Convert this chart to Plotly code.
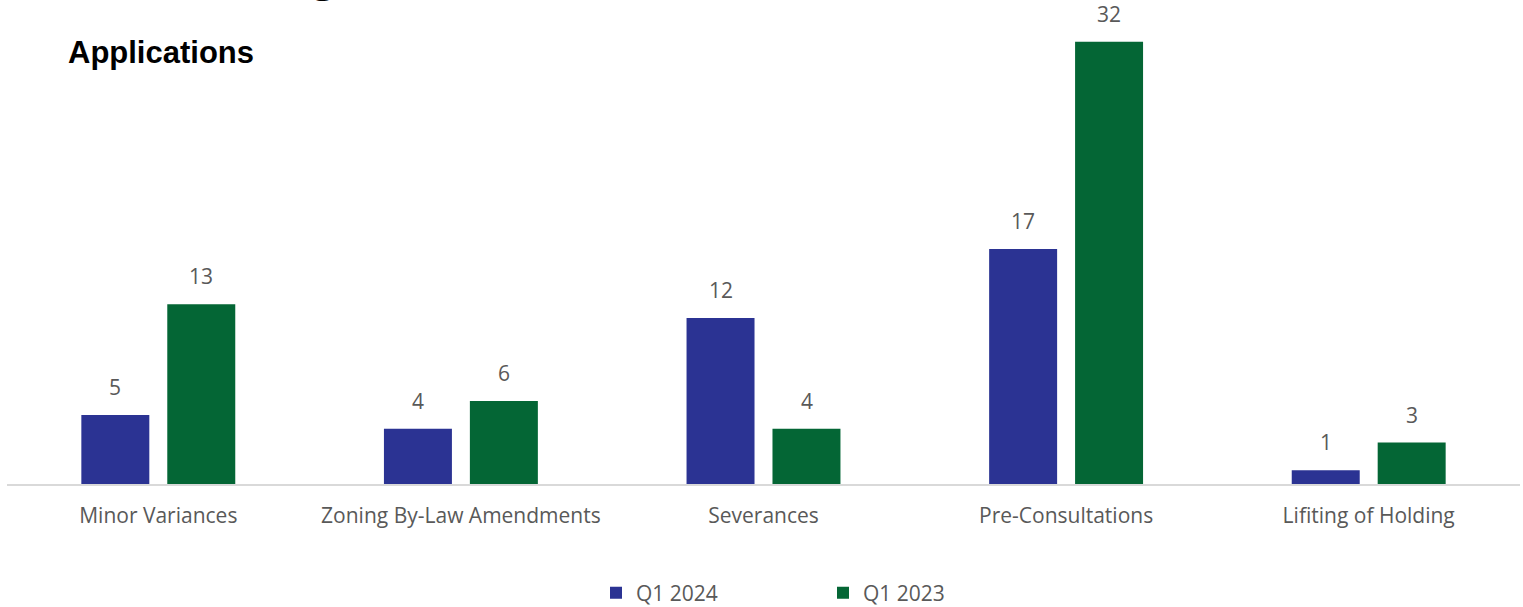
import plotly.graph_objects as go

categories = ["Minor Variances", "Zoning By-Law Amendments", "Severances",
              "Pre-Consultations", "Lifiting of Holding"]
q1_2024 = [5, 4, 12, 17, 1]
q1_2023 = [13, 6, 4, 32, 3]

series = [("Q1 2024", q1_2024, "#2b3393", -43), ("Q1 2023", q1_2023, "#046635", 43)]

W, H = 1523, 607
M_L, M_R, M_T, M_B = 7, 3, 14, 123
Y_MAX = 34
GRAY = "#595959"
FONT = "Open Sans"
PLOT_W = W - M_L - M_R

fig = go.Figure()
for name, vals, color, _ in series:
    fig.add_trace(go.Bar(name=name, x=categories, y=vals, marker_color=color,
                         marker_line_width=0))

# value labels above each bar
for name, vals, color, shift in series:
    for cat, v in zip(categories, vals):
        fig.add_annotation(x=cat, y=v, xref="x", yref="y", text=str(v),
                           showarrow=False, xshift=shift, yanchor="bottom", yshift=12,
                           font=dict(family=FONT, size=21, color=GRAY))

def py(px):
    """pixel row -> paper y"""
    return (H - M_B - px) / (H - M_B - M_T)

fig.add_annotation(xref="paper", yref="paper", x=(66 - M_L) / PLOT_W, y=py(53),
                   xanchor="left", yanchor="middle", text="<b>Applications</b>",
                   showarrow=False, font=dict(family="Liberation Sans", size=31, color="black"))
fig.add_annotation(xref="paper", yref="paper", x=(336 - M_L) / PLOT_W, y=py(3),
                   xanchor="right", yanchor="bottom", text="<b>Planning</b>",
                   showarrow=False, font=dict(family="Liberation Serif", size=46, color="black"))

fig.update_layout(
    width=W, height=H,
    margin=dict(l=M_L, r=M_R, t=M_T, b=M_B, autoexpand=False),
    paper_bgcolor="white", plot_bgcolor="white",
    barmode="group", bargap=0.432, bargroupgap=0.209,
    font=dict(family=FONT, size=20, color=GRAY),
    showlegend=True,
    legend=dict(orientation="h", x=(823 - M_L) / PLOT_W, xanchor="center", yref="container",
                y=1 - 593 / H, yanchor="middle",
                font=dict(family=FONT, size=21, color=GRAY), entrywidth=182,
                itemsizing="constant"),
    xaxis=dict(showline=True, linecolor="#d9d9d9", linewidth=2, ticks="outside",
               ticklen=12, tickcolor="rgba(0,0,0,0)", showgrid=False,
               tickfont=dict(family=FONT, size=21, color=GRAY)),
    yaxis=dict(range=[0, Y_MAX], visible=False, showgrid=False),
)

fig.write_html("out.html")
